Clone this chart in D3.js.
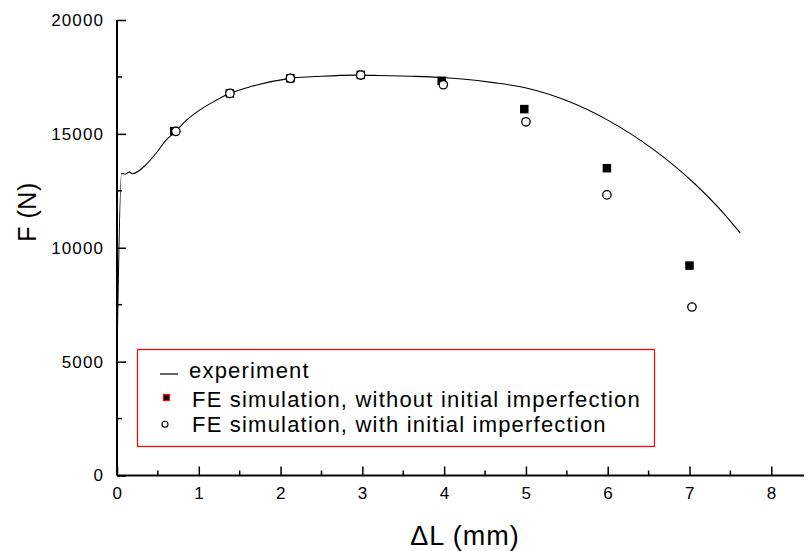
<!DOCTYPE html>
<html>
<head>
<meta charset="utf-8">
<script src="https://cdn.jsdelivr.net/npm/d3@7"></script>
<style>
  html, body { margin: 0; padding: 0; background: #fff; }
  svg { display: block; font-family: "Liberation Sans", Arial, sans-serif; }
</style>
</head>
<body>
<svg id="chart" width="807" height="551"></svg>
<script>
// experimental curve
const expX = [0, 0.055, 0.1, 0.15, 0.19, 0.36, 0.5, 0.6, 0.72, 0.85, 1.01, 1.2, 1.38, 1.66, 2.12, 2.5, 2.9, 3.2, 3.6, 3.98, 4.22, 4.6, 4.99, 5.48, 6.0, 6.57, 7.06, 7.42, 7.62];
const expF = [5200, 13260, 13230, 13320, 13250, 13670, 14250, 14725, 15120, 15600, 16044, 16450, 16780, 17100, 17437, 17530, 17580, 17565, 17530, 17473, 17407, 17250, 17026, 16484, 15604, 14286, 12821, 11502, 10652];

// FE simulation, without initial imperfection
const feNoImpX = [0.7, 1.38, 2.12, 2.98, 3.97, 4.98, 5.99, 7.0];
const feNoImpF = [15120, 16780, 17440, 17590, 17330, 16088, 13494, 9217];

// FE simulation, with initial imperfection
const feImpX = [0.72, 1.38, 2.12, 2.98, 3.99, 5.0, 5.99, 7.03];
const feImpF = [15110, 16778, 17437, 17582, 17156, 15530, 12321, 7398];

const xTicks = [0, 1, 2, 3, 4, 5, 6, 7, 8];
const xMinor = [0.5, 1.5, 2.5, 3.5, 4.5, 5.5, 6.5, 7.5];
const yTicks = [0, 5000, 10000, 15000, 20000];
const yMinor = [2500, 7500, 12500, 17500];

const legendLabels = ["experiment", "FE simulation, without initial imperfection", "FE simulation, with initial imperfection"];

const svg = d3.select("#chart");
const x = d3.scaleLinear().domain([0, 8.4]).range([117, 804]);
const y = d3.scaleLinear().domain([0, 20000]).range([475.5, 20]);

// axes
const xAxis = d3.axisBottom(x).tickValues(xTicks).tickSize(-9).tickFormat(d3.format("d")).tickPadding(11);
const gx = svg.append("g").attr("transform", `translate(0,${y(0)})`).call(xAxis);
gx.select(".domain").attr("d", `M${x(0)},0H${x(8.4)}`).attr("stroke-width", 2);
gx.selectAll(".tick line").attr("stroke-width", 1.5);
gx.selectAll(".tick text").attr("font-size", 17).attr("letter-spacing", "0.5px").attr("fill", "#000").attr("dy", "0.71em").attr("font-family", "Liberation Sans, Arial, sans-serif");
svg.append("g").attr("transform", `translate(0,${y(0)})`)
  .selectAll("line").data(xMinor).join("line")
  .attr("x1", d => x(d)).attr("x2", d => x(d)).attr("y1", 0).attr("y2", -5)
  .attr("stroke", "#000").attr("stroke-width", 1.5);

const yAxis = d3.axisLeft(y).tickValues(yTicks).tickSize(-9).tickFormat(d3.format("d")).tickPadding(13);
const gy = svg.append("g").attr("transform", `translate(${x(0)},0)`).call(yAxis);
gy.select(".domain").attr("d", `M0,${y(0)}V${y(20000)}`).attr("stroke-width", 2);
gy.selectAll(".tick line").attr("stroke-width", 1.5);
gy.selectAll(".tick text").attr("font-size", 17).attr("letter-spacing", "1.1px").attr("fill", "#000").attr("font-family", "Liberation Sans, Arial, sans-serif");
svg.append("g").attr("transform", `translate(${x(0)},0)`)
  .selectAll("line").data(yMinor).join("line")
  .attr("x1", 0).attr("x2", 5).attr("y1", d => y(d)).attr("y2", d => y(d))
  .attr("stroke", "#000").attr("stroke-width", 1.5);

// axis titles
svg.append("text").attr("x", 465).attr("y", 545).attr("text-anchor", "middle")
  .attr("font-size", 27).attr("letter-spacing", "1px").text("\u0394L (mm)");
svg.append("text").attr("transform", "translate(36,212) rotate(-90)").attr("text-anchor", "middle")
  .attr("font-size", 25).attr("letter-spacing", "0.5px").text("F (N)");

// experiment line
const expData = expX.map((v, i) => [v, expF[i]]);
svg.append("path").datum(expData)
  .attr("fill", "none").attr("stroke", "#000").attr("stroke-width", 1.1)
  .attr("d", d3.line().x(d => x(d[0])).y(d => y(d[1])).curve(d3.curveMonotoneX));

// squares
const sq = 8.5;
svg.append("g").selectAll("rect").data(feNoImpX.map((v, i) => [v, feNoImpF[i]])).join("rect")
  .attr("x", d => x(d[0]) - sq / 2).attr("y", d => y(d[1]) - sq / 2)
  .attr("width", sq).attr("height", sq).attr("fill", "#000");

// circles
svg.append("g").selectAll("circle").data(feImpX.map((v, i) => [v, feImpF[i]])).join("circle")
  .attr("cx", d => x(d[0])).attr("cy", d => y(d[1])).attr("r", 4.2)
  .attr("fill", "#fff").attr("stroke", "#000").attr("stroke-width", 1.3);

// legend
const lg = svg.append("g");
lg.append("rect").attr("x", 137.5).attr("y", 349.5).attr("width", 517).attr("height", 97)
  .attr("fill", "#fff").attr("stroke", "#f01010").attr("stroke-width", 1.3);
const rowsY = [378, 407, 432];
lg.append("line").attr("x1", 160).attr("x2", 178).attr("y1", rowsY[0] - 4).attr("y2", rowsY[0] - 4)
  .attr("stroke", "#000").attr("stroke-width", 1.2);
lg.append("rect").attr("x", 163.5).attr("y", 394.5).attr("width", 6).attr("height", 6)
  .attr("fill", "#000").attr("stroke", "#f01010").attr("stroke-width", 1.3);
lg.append("circle").attr("cx", 165).attr("cy", 424.3).attr("r", 3)
  .attr("fill", "#fff").attr("stroke", "#000").attr("stroke-width", 1.1);
lg.selectAll("text").data(legendLabels).join("text")
  .attr("x", (d, i) => i === 0 ? 189 : 192).attr("y", (d, i) => rowsY[i])
  .attr("font-size", 22).attr("letter-spacing", "1.2px").attr("fill", "#000").text(d => d);
</script>
</body>
</html>
